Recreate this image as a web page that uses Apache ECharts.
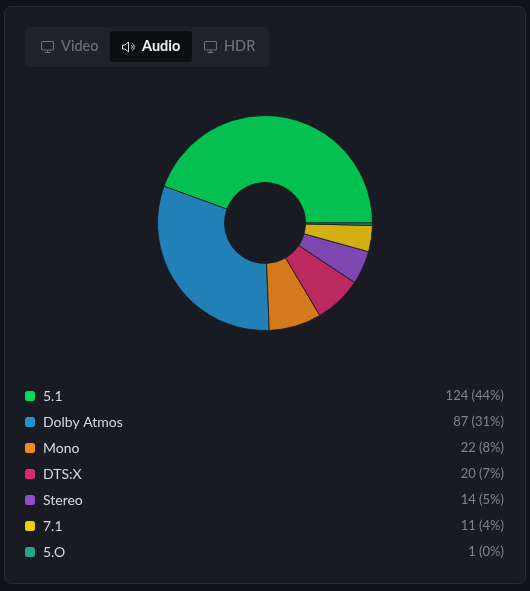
<!DOCTYPE html>
<html><head><meta charset="utf-8">
<style>html,body{margin:0;padding:0;background:#0f1217;width:530px;height:591px;overflow:hidden}#c{width:530px;height:591px}</style>
<script src="https://cdn.jsdelivr.net/npm/echarts@6/dist/echarts.min.js"></script>
</head><body><div id="c"></div>
<script>
const categories = ['5.1','Dolby Atmos','Mono','DTS:X','Stereo','7.1','5.O'];
const counts = [124,87,22,20,14,11,1];
const percents = [44,31,8,7,5,4,0];
const colors = ['#00dc5a','#2391cf','#f58a1c','#d62c6a','#8f4fc9','#f2ca10','#22a488'];
const tabs = ['Video','Audio','HDR'];
const font = 'Lato';
const chart = echarts.init(document.getElementById('c'));
const lookup = Object.fromEntries(categories.map((n,i)=>[n,i]));
function monitor(x,y,c){
  const s={fill:null,stroke:c,lineWidth:1.1};
  return {type:'group',x:x,y:y,children:[
    {type:'rect',shape:{x:0.5,y:0.5,width:12,height:8.5,r:1},style:s},
    {type:'line',shape:{x1:6.5,y1:9,x2:6.5,y2:11.5},style:s},
    {type:'line',shape:{x1:3.5,y1:11.5,x2:9.5,y2:11.5},style:s}
  ]};
}
function speaker(x,y,c){
  const s={fill:null,stroke:c,lineWidth:1};
  return {type:'group',x:x,y:y,children:[
    {type:'polygon',shape:{points:[[0.5,4],[3,4],[6.5,1],[6.5,11],[3,8],[0.5,8]]},style:s},
    {type:'arc',shape:{cx:8,cy:6,r:2.2,startAngle:-1,endAngle:1},style:s},
    {type:'arc',shape:{cx:8,cy:6,r:4.2,startAngle:-1,endAngle:1},style:s}
  ]};
}
function label(text,x,y,color,weight){return {type:'text',x:x,y:y,style:{text:text,fill:color,font:(weight||400)+' 14.5px '+font,verticalAlign:'middle'}};}
chart.setOption({
  animation:false,
  backgroundColor:'#0f1217',
  graphic:{elements:[
    {type:'rect',z:-3,shape:{x:4.5,y:6.5,width:521,height:577,r:7},style:{fill:'#181b21',stroke:'#2a2e33',lineWidth:1}},
    {type:'rect',z:-2,shape:{x:25,y:27,width:244,height:40,r:5},style:{fill:'#1f2328'}},
    {type:'rect',z:-1,shape:{x:110,y:31,width:82,height:31,r:3},style:{fill:'#0c0e11'}},
    monitor(41,41,'#6b7177'),
    label(tabs[0],61,46.5,'#6b7177',500),
    speaker(122,41,'#d8dde2'),
    label(tabs[1],142,46.5,'#eef2f6',700),
    monitor(204,41,'#6b7177'),
    label(tabs[2],224,46.5,'#6b7177',500)
  ]},
  legend:{
    orient:'vertical',left:25,top:388,itemWidth:10,itemHeight:10,itemGap:10,
    icon:'roundRect',selectedMode:false,padding:0,
    itemStyle:{opacity:1,borderWidth:0},
    formatter:n=>{const i=lookup[n];return '{n|'+n+'}{v|'+counts[i]+' ('+percents[i]+'%)}';},
    textStyle:{rich:{
      n:{width:301,height:16,padding:[0,0,0,3],fontFamily:font,fontSize:14,color:'#d5dae0',lineHeight:16},
      v:{width:160,height:16,align:'right',fontFamily:font,fontSize:13,color:'#7d858c',lineHeight:16}
    }}
  },
  series:[{
    type:'pie',center:[265,223],radius:[40.5,107.5],startAngle:0,clockwise:false,
    label:{show:false},labelLine:{show:false},silent:true,
    itemStyle:{borderColor:'#181b21',borderWidth:1,opacity:.86},
    data:categories.map((n,i)=>({name:n,value:counts[i],itemStyle:{color:colors[i]}}))
  }]
});
</script></body></html>
